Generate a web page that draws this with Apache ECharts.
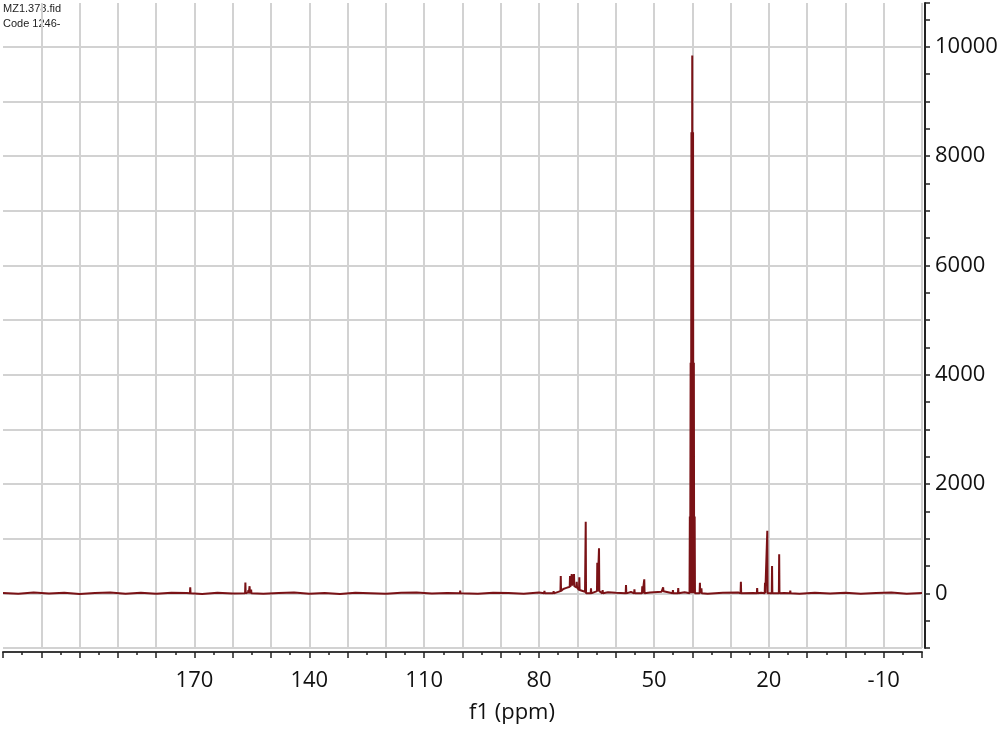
<!DOCTYPE html>
<html>
<head>
<meta charset="utf-8">
<script src="https://cdn.jsdelivr.net/npm/echarts@6/dist/echarts.min.js"></script>
<style>
html, body { margin: 0; padding: 0; background: #fff; }
#main { width: 1005px; height: 729px; }
</style>
</head>
<body>
<div id="main"></div>
<script>
// flat part of the trace, [ppm, intensity]
var baseline = [
    [220, 8], [216, -6], [212, 14], [208, -4], [204, 10], [200, -10], [196, 6], [192, 16],
    [188, -8], [184, 12], [180, -6], [176, 10], [172, 4], [168, -10], [164, 12], [160, -2],
    [156, 18], [152, -8], [148, 6], [144, 14], [140, -6], [136, 8], [132, -10], [128, 12],
    [124, 2], [120, -8], [116, 10], [112, 16], [108, -4], [104, 8], [100, 12], [96, -8],
    [92, 10], [88, 4], [84, -6], [80, 14], [76, 20], [68, 30], [62, 20],
    [60, 10], [56, 24], [51, 14], [48, 30], [42, 20], [36, -6], [32, 10], [28, 14],
    [24, 6], [22, 12], [16, 8], [12, -6], [8, 10], [4, -4], [0, 12], [-4, -8],
    [-8, 6], [-12, 14], [-16, -6], [-20, 4]
];

// peaks: [ppm, height, foot level]
var peaksLeft = [
    [171.1, 110], [156.7, 200], [155.9, 60], [155.6, 130], [155.2, 70], [100.6, 50]
];

var peaksMid = [
    [78.6, 45], [76.2, 40],
    [74.34, 317, 40], [73.6, 90, 80], [72.78, 115, 100], [71.92, 317, 120], [71.47, 353, 140],
    [70.88, 353, 130], [70.17, 212, 110], [69.49, 293, 60],
    [67.82, 1311], [66.44, 92], [64.8, 560, 40], [64.35, 824, 40], [63.4, 60],
    [57.3, 152], [55.1, 73], [53.05, 130], [52.53, 256], [47.6, 110, 40], [45.05, 60], [43.66, 97]
];

// DMSO-d6 septet
var solventPeak = [
    [40.63, 1406], [40.42, 4217], [40.21, 8434], [40.0, 9840], [39.79, 8434], [39.58, 4217], [39.37, 1406]
];

var peaksRight = [
    [38.0, 194], [37.6, 90], [27.3, 212], [23.05, 97], [21.0, 194], [20.4, 1146],
    [19.16, 500], [17.3, 714], [14.4, 50]
];

var xLabels = [170, 140, 110, 80, 50, 20, -10];
var yLabels = [0, 2000, 4000, 6000, 8000, 10000];
var fileName = 'MZ1.378.fid';
var codeText = 'Code 1246-';
var xTitle = 'f1 (ppm)';

function spikes(list) {
    var out = [];
    list.forEach(function (p) {
        var foot = p[2] || 0;
        out.push([p[0] + 0.08, foot], [p[0], p[1]], [p[0] - 0.08, foot]);
    });
    return out;
}

var trace = baseline.concat(spikes(peaksLeft), spikes(peaksMid), spikes(solventPeak), spikes(peaksRight));
trace.sort(function (a, b) { return b[0] - a[0]; });

var font = 'Open Sans';
var myChart = echarts.init(document.getElementById('main'));

var option = {
    animation: false,
    backgroundColor: '#fff',
    grid: { left: 2, right: 83, top: 3, bottom: 81 },
    xAxis: {
        type: 'value',
        inverse: true,
        min: -20,
        max: 220,
        interval: 10,
        offset: 4,
        axisLine: { onZero: false, lineStyle: { color: '#3a3a3a', width: 2 } },
        axisTick: { show: true, length: 6, lineStyle: { color: '#222', width: 1.5 } },
        minorTick: { show: true, splitNumber: 2, length: 3, lineStyle: { color: '#222', width: 1.5 } },
        axisLabel: {
            fontSize: 22, fontFamily: font, color: '#111', margin: 18,
            formatter: function (v) { return xLabels.indexOf(v) >= 0 ? String(v) : ''; }
        },
        splitLine: { show: true, showMaxLine: false, lineStyle: { color: '#d2d2d2', width: 2 } }
    },
    yAxis: {
        type: 'value',
        position: 'right',
        min: -1000,
        max: 10800,
        interval: 1000,
        offset: 3,
        axisLine: { show: true, onZero: false, lineStyle: { color: '#222', width: 2 } },
        axisTick: { show: true, length: 5, lineStyle: { color: '#222', width: 1.5 } },
        minorTick: { show: true, splitNumber: 2, length: 5, lineStyle: { color: '#222', width: 1.5 } },
        axisLabel: {
            fontSize: 22, fontFamily: font, color: '#111', margin: 10,
            formatter: function (v) { return yLabels.indexOf(v) >= 0 ? String(v) : ''; }
        },
        splitLine: { show: true, showMaxLine: false, lineStyle: { color: '#d2d2d2', width: 2 } }
    },
    graphic: [
        { type: 'text', left: 3, top: 3, style: { text: fileName, font: '11px "Liberation Sans"', fill: '#222' } },
        { type: 'text', left: 3, top: 18, style: { text: codeText, font: '11px "Liberation Sans"', fill: '#222' } },
        {
            type: 'text', x: 512, y: 713,
            style: { text: xTitle, font: '22px "Open Sans"', fill: '#111', textAlign: 'center', textVerticalAlign: 'middle' }
        }
    ],
    series: [{
        type: 'line',
        data: trace,
        symbol: 'none',
        sampling: null,
        clip: true,
        lineStyle: { color: '#7a1216', width: 2 }
    }]
};

myChart.setOption(option);
</script>
</body>
</html>
